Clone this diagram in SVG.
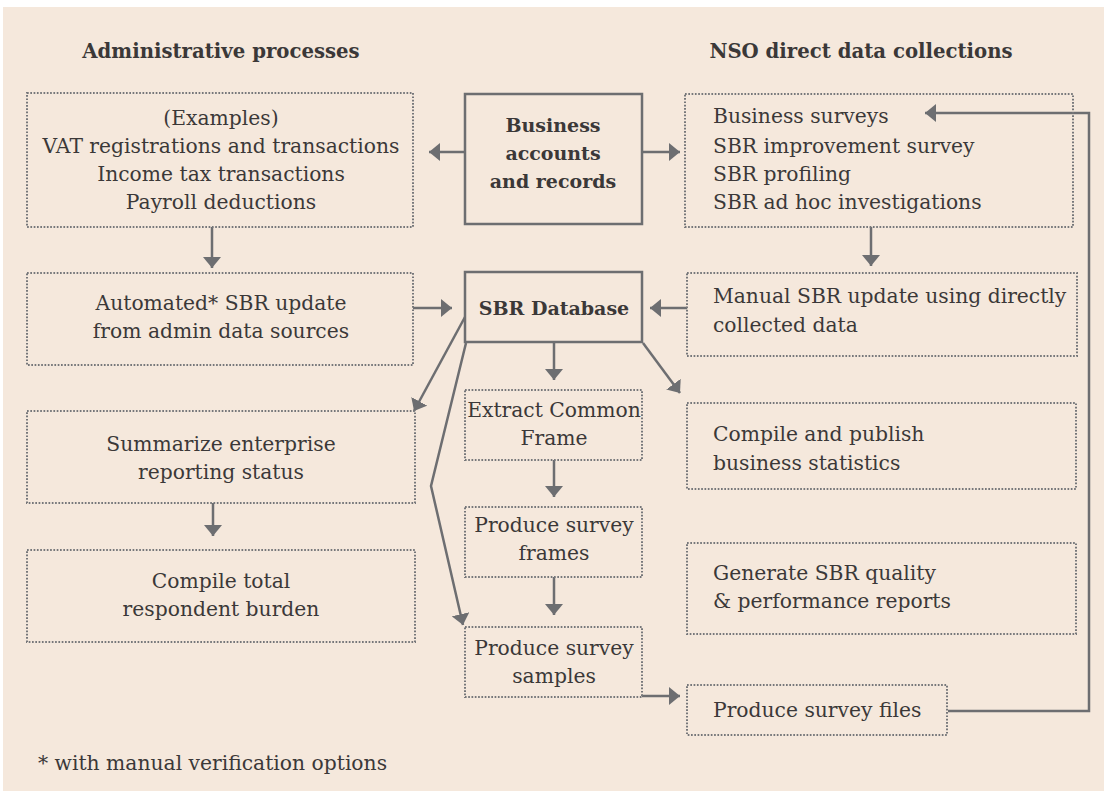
<svg xmlns="http://www.w3.org/2000/svg" width="1104" height="791" viewBox="0 0 1104 791">
<defs>
<marker id="ah" markerUnits="userSpaceOnUse" markerWidth="12" markerHeight="18" refX="11" refY="9" orient="auto">
<path d="M0,0 L11,9 L0,18 z" fill="#6d6e71"/>
</marker>
<style>
.dot{fill:none;stroke:#76777a;stroke-width:2;stroke-dasharray:1.7 1.6}
.solid{fill:none;stroke:#6d6e71;stroke-width:2.5}
.con{fill:none;stroke:#6d6e71;stroke-width:2.5;marker-end:url(#ah)}
text{font-family:"DejaVu Serif","Liberation Serif",serif;fill:#3b3838;font-size:20.3px}
.b{font-weight:bold;font-size:19px}
.t{font-size:19.7px}
.c{text-anchor:middle}
</style>
</defs>
<rect x="3" y="7" width="1101" height="784" fill="#f5e8dc"/>
<text class="b t c" x="221" y="58">Administrative processes</text>
<text class="b t c" x="861" y="58">NSO direct data collections</text>

<g id="connectors">
<line class="con" x1="212" y1="227" x2="212" y2="268"/>
<line class="con" x1="465" y1="152" x2="429" y2="152"/>
<line class="con" x1="642" y1="152" x2="680" y2="152"/>
<line class="con" x1="871" y1="227" x2="871" y2="266"/>
<line class="con" x1="413" y1="308" x2="452" y2="308"/>
<line class="con" x1="687" y1="308" x2="650" y2="308"/>
<line class="con" x1="554" y1="342" x2="554" y2="380"/>
<line class="con" x1="554" y1="460" x2="554" y2="497"/>
<line class="con" x1="554" y1="577" x2="554" y2="615"/>
<line class="con" x1="213" y1="503" x2="213" y2="536"/>
<line class="con" x1="465" y1="317" x2="414" y2="411"/>
<polyline class="con" points="466,343 431,486 463,625"/>
<line class="con" x1="643" y1="343" x2="680" y2="393"/>
<line class="con" x1="642" y1="696" x2="680" y2="696"/>
<polyline class="con" points="948,711 1089,711 1089,113 925,113"/>
</g>

<g id="examples">
<rect class="dot" x="27" y="93" width="386" height="134"/>
<text class="c" x="221" y="125">(Examples)</text>
<text class="c" x="221" y="153">VAT registrations and transactions</text>
<text class="c" x="221" y="181">Income tax transactions</text>
<text class="c" x="221" y="209">Payroll deductions</text>
</g>
<g id="business">
<rect class="solid" x="465" y="94" width="177" height="130"/>
<text class="b c" x="553" y="132">Business</text>
<text class="b c" x="553" y="160">accounts</text>
<text class="b c" x="553" y="188">and records</text>
</g>
<g id="nso">
<rect class="dot" x="685" y="94" width="388" height="133"/>
<text x="713" y="123">Business surveys</text>
<text x="713" y="153">SBR improvement survey</text>
<text x="713" y="181">SBR profiling</text>
<text x="713" y="209">SBR ad hoc investigations</text>
</g>
<g id="automated">
<rect class="dot" x="27" y="273" width="386" height="92"/>
<text class="c" x="221" y="310">Automated* SBR update</text>
<text class="c" x="221" y="338">from admin data sources</text>
</g>
<g id="sbrdb">
<rect class="solid" x="465" y="272" width="177" height="70"/>
<text class="b c" x="554" y="315">SBR Database</text>
</g>
<g id="manual">
<rect class="dot" x="687" y="273" width="390" height="83"/>
<text x="713" y="303">Manual SBR update using directly</text>
<text x="713" y="332">collected data</text>
</g>
<g id="summarize">
<rect class="dot" x="27" y="411" width="388" height="92"/>
<text class="c" x="221" y="451">Summarize enterprise</text>
<text class="c" x="221" y="479">reporting status</text>
</g>
<g id="burden">
<rect class="dot" x="27" y="550" width="388" height="92"/>
<text class="c" x="221" y="588">Compile total</text>
<text class="c" x="221" y="616">respondent burden</text>
</g>
<g id="extract">
<rect class="dot" x="465" y="390" width="177" height="70"/>
<text class="c" x="554" y="417">Extract Common</text>
<text class="c" x="554" y="445">Frame</text>
</g>
<g id="frames">
<rect class="dot" x="465" y="507" width="177" height="70"/>
<text class="c" x="554" y="532">Produce survey</text>
<text class="c" x="554" y="560">frames</text>
</g>
<g id="samples">
<rect class="dot" x="465" y="627" width="177" height="70"/>
<text class="c" x="554" y="655">Produce survey</text>
<text class="c" x="554" y="683">samples</text>
</g>
<g id="publish">
<rect class="dot" x="687" y="403" width="389" height="86"/>
<text x="713" y="441">Compile and publish</text>
<text x="713" y="470">business statistics</text>
</g>
<g id="quality">
<rect class="dot" x="687" y="543" width="389" height="91"/>
<text x="713" y="580">Generate SBR quality</text>
<text x="713" y="608">&amp; performance reports</text>
</g>
<g id="files">
<rect class="dot" x="687" y="685" width="260" height="50"/>
<text x="713" y="717">Produce survey files</text>
</g>
<text x="38" y="770">* with manual verification options</text>
</svg>
